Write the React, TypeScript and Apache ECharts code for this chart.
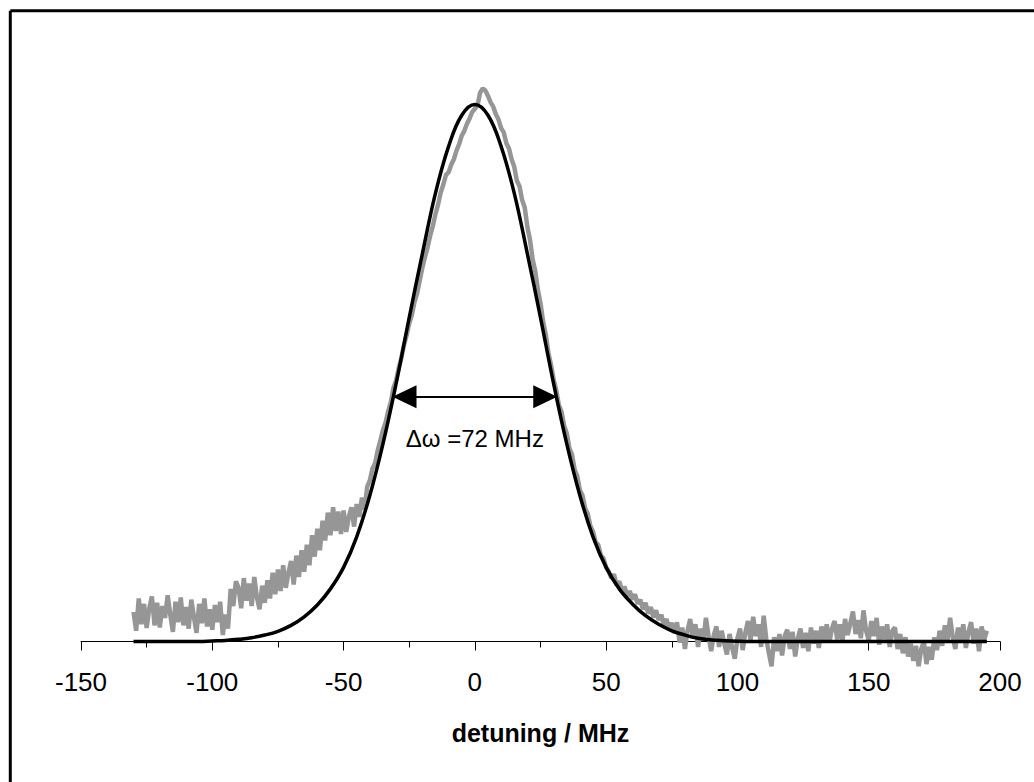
import React, { useEffect, useRef } from "react";
import * as echarts from "echarts";

// measured signal, sampled every 1 MHz from -130 MHz
const DATA_X_START = -130;
const DATA_X_STEP = 1;
const signal: number[] = [
  0.055, 0.020, 0.080, 0.032, 0.070, 0.025, 0.062, 0.084, 0.030, 0.072,
  0.026, 0.066, 0.044, 0.086, 0.050, 0.018, 0.074, 0.036, 0.082, 0.030,
  0.064, 0.024, 0.078, 0.046, 0.016, 0.070, 0.034, 0.080, 0.028, 0.060,
  0.022, 0.068, 0.036, 0.074, 0.012, 0.050, 0.024, 0.098, 0.066, 0.112,
  0.100, 0.062, 0.118, 0.076, 0.108, 0.066, 0.120, 0.082, 0.060, 0.104,
  0.072, 0.114, 0.080, 0.128, 0.088, 0.134, 0.094, 0.142, 0.100, 0.128,
  0.150, 0.106, 0.160, 0.120, 0.170, 0.130, 0.180, 0.142, 0.198, 0.158,
  0.210, 0.170, 0.225, 0.188, 0.240, 0.198, 0.250, 0.206, 0.242, 0.200,
  0.244, 0.204, 0.232, 0.250, 0.214, 0.256, 0.232, 0.268, 0.246, 0.288,
  0.300, 0.322, 0.332, 0.356, 0.374, 0.394, 0.408, 0.429, 0.446, 0.472,
  0.486, 0.509, 0.528, 0.552, 0.570, 0.592, 0.608, 0.632, 0.648, 0.672,
  0.696, 0.716, 0.734, 0.756, 0.774, 0.796, 0.814, 0.836, 0.851, 0.869,
  0.874, 0.888, 0.898, 0.914, 0.926, 0.942, 0.951, 0.964, 0.974, 0.986,
  0.992, 0.998, 1.022, 1.030, 1.026, 1.016, 1.004, 0.996, 0.982, 0.972,
  0.956, 0.948, 0.928, 0.918, 0.898, 0.884, 0.858, 0.848, 0.822, 0.808,
  0.772, 0.748, 0.712, 0.690, 0.655, 0.630, 0.596, 0.572, 0.538, 0.515,
  0.488, 0.468, 0.440, 0.428, 0.402, 0.388, 0.360, 0.348, 0.320, 0.308,
  0.282, 0.272, 0.248, 0.238, 0.215, 0.205, 0.185, 0.180, 0.160, 0.155,
  0.138, 0.130, 0.118, 0.125, 0.105, 0.112, 0.095, 0.102, 0.085, 0.094,
  0.078, 0.088, 0.070, 0.078, 0.060, 0.072, 0.052, 0.064, 0.045, 0.058,
  0.040, 0.050, 0.030, 0.042, 0.022, 0.035,
  0.016, 0.036, -0.002, 0.026, -0.014, 0.020, 0.042, 0.008, 0.032, -0.010,
  0.024, 0.002, 0.044, 0.010, -0.018, 0.012, 0.028, -0.010, 0.020, -0.004,
  -0.024, 0.014, -0.012, -0.032, 0.006, 0.024, -0.016, 0.016, 0.038, 0.002,
  0.046, 0.010, 0.032, -0.010, 0.048, 0.004, -0.022, -0.046, 0.008, -0.018,
  0.014, -0.026, 0.010, 0.022, -0.014, 0.018, -0.028, 0.006, 0.024, -0.012,
  0.016, -0.018, 0.026, -0.004, 0.020, -0.012, 0.028, 0.002, 0.032, -0.002,
  0.024, 0.038, 0.004, 0.032, 0.000, 0.042, 0.012, 0.034, 0.056, 0.014,
  0.040, 0.006, 0.058, 0.020, 0.002, 0.038, 0.010, 0.044, -0.006, 0.028,
  0.004, 0.032, -0.010, 0.020, 0.026, -0.014, 0.014, -0.022, 0.008, -0.028,
  -0.004, -0.036, -0.008, -0.046, -0.014, 0.000, -0.042, -0.010, -0.034, 0.008,
  -0.016, 0.020, -0.008, 0.030, 0.002, 0.044, 0.008, -0.014, 0.026, -0.002,
  0.032, -0.012, 0.018, 0.036, -0.004, 0.024, -0.018, 0.028, 0.004, 0.020,
];

// Gaussian fit curve, sampled every 5 MHz from -130 MHz
const FIT_X_START = -130;
const FIT_X_STEP = 5;
const fit: number[] = [
  0, 0, 0, 0, 0, 0,
  0.001, 0.002, 0.004, 0.007, 0.012, 0.019, 0.030, 0.046, 0.068, 0.098,
  0.138, 0.195, 0.272, 0.368, 0.480, 0.603, 0.722, 0.835, 0.922, 0.980,
  1.0,
  0.980, 0.922, 0.835, 0.722, 0.603, 0.480, 0.368, 0.272, 0.195, 0.138,
  0.098, 0.070, 0.048, 0.032, 0.020, 0.012, 0.006, 0.003, 0.0015, 0.0005,
  0, 0, 0, 0, 0, 0, 0, 0, 0, 0, 0, 0, 0, 0, 0, 0, 0, 0, 0,
];

// FWHM arrow: centres of the two heads (MHz) and height
const arrowFrom = -26.8;
const arrowTo = 26.8;
const arrowLevel = 0.456;
const arrowLabel = "\u0394\u03c9 =72 MHz";

const xTicks = { min: -150, max: 200, interval: 50 };
const xTitle = "detuning / MHz";

export default function App() {
  const ref = useRef<HTMLDivElement>(null);
  useEffect(() => {
    if (!ref.current) return;
    const chart = echarts.init(ref.current, undefined, { renderer: "svg" });
    const sigPts = signal.map((v, i) => [DATA_X_START + i * DATA_X_STEP, v]);
    const fitPts = fit.map((v, i) => [FIT_X_START + i * FIT_X_STEP, v]);
    const font = "'Liberation Sans', Arial, sans-serif";
    chart.setOption({
      animation: false,
      backgroundColor: "#ffffff",
      textStyle: { fontFamily: font, color: "#000" },
      grid: { left: 81, right: 34, top: 50.8, bottom: 86.8, containLabel: false },
      xAxis: {
        type: "value",
        min: xTicks.min,
        max: xTicks.max,
        interval: xTicks.interval,
        offset: -53.7,
        name: xTitle,
        nameLocation: "middle",
        nameGap: 79,
        nameTextStyle: { fontFamily: font, fontSize: 25, fontWeight: "bold", color: "#000" },
        axisLine: { onZero: false, lineStyle: { color: "#000", width: 1 } },
        axisTick: { show: true, length: 9, lineStyle: { color: "#000", width: 1 } },
        minorTick: { show: true, splitNumber: 2, length: 6, lineStyle: { color: "#000", width: 1 } },
        splitLine: { show: false },
        minorSplitLine: { show: false },
        axisLabel: { fontFamily: font, fontSize: 26, color: "#000", margin: 27 },
      },
      yAxis: {
        type: "value",
        min: -0.1,
        max: 1.1,
        show: false,
        splitLine: { show: false },
      },
      graphic: [
        { type: "line", shape: { x1: 10.3, y1: 10.8, x2: 1040, y2: 10.8 }, style: { stroke: "#000", lineWidth: 3 }, silent: true },
        { type: "line", shape: { x1: 10.3, y1: 10.8, x2: 10.3, y2: 790 }, style: { stroke: "#000", lineWidth: 3 }, silent: true },
      ],
      series: [
        {
          type: "line",
          data: sigPts,
          showSymbol: false,
          lineStyle: { color: "#969696", width: 4.5 },
          z: 2,
        },
        {
          type: "line",
          data: fitPts,
          showSymbol: false,
          smooth: 0.4,
          lineStyle: { color: "#000", width: 3.5 },
          z: 3,
          markLine: {
            silent: true,
            symbol: ["triangle", "triangle"],
            symbolSize: [23, 24],
            lineStyle: { color: "#000", width: 2, type: "solid" },
            label: {
              show: true,
              position: "insideMiddleBottom",
              formatter: arrowLabel,
              fontFamily: font,
              fontSize: 24,
              color: "#000",
              distance: 30,
            },
            data: [[{ coord: [arrowFrom, arrowLevel] }, { coord: [arrowTo, arrowLevel] }]],
          },
        },
      ],
    });
    return () => chart.dispose();
  }, []);
  return (
    <div
      ref={ref}
      style={{ position: "fixed", left: 0, top: 0, width: 1034, height: 782, background: "#fff" }}
    />
  );
}
